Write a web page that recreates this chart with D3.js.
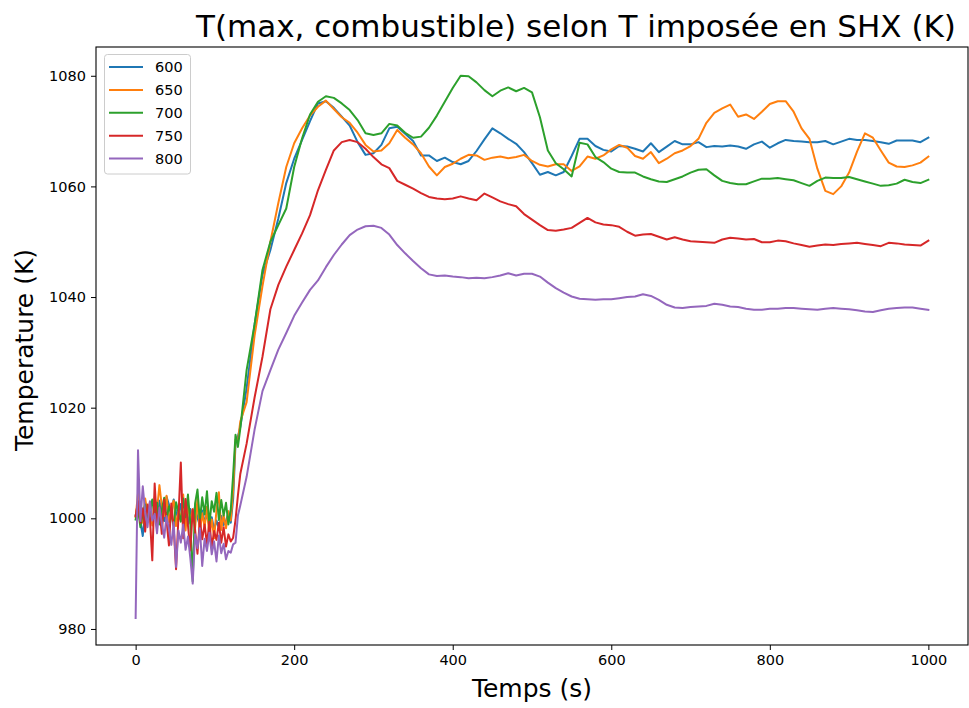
<!DOCTYPE html>
<html>
<head>
<meta charset="utf-8">
<script src="https://cdn.jsdelivr.net/npm/d3@7/dist/d3.min.js"></script>
<style>
  html, body { margin: 0; padding: 0; background: #fff; }
  svg { display: block; font-family: "DejaVu Sans", sans-serif; }
</style>
</head>
<body>
<svg id="chart" width="969" height="708"></svg>
<script>
// Sampling times (s): every 3 s through the start-up transient, then every 10 s
const time = [
  0, 3, 6, 9, 12, 15, 18, 21, 24, 27, 30, 33, 36, 39, 42, 45, 48, 51, 54, 57,
  60, 63, 66, 69, 72, 75, 78, 81, 84, 87, 90, 93, 96, 99, 102, 105, 108, 111, 114, 117,
  120, 123, 126, 129, 132,
  140, 150, 160, 170, 180, 190, 200, 210, 220, 230, 240, 250, 260, 270, 280, 290, 300,
  310, 320, 330, 340, 350, 360, 370, 380, 390, 400, 410, 420, 430, 440, 450, 460, 470,
  480, 490, 500, 510, 520, 530, 540, 550, 560, 570, 580, 590, 600, 610, 620, 630, 640,
  650, 660, 670, 680, 690, 700, 710, 720, 730, 740, 750, 760, 770, 780, 790, 800, 810,
  820, 830, 840, 850, 860, 870, 880, 890, 900, 910, 920, 930, 940, 950, 960, 970, 980,
  990, 1000
];

// Maximum fuel temperature (K) for each imposed SHX temperature
const t600 = [
  1000.5, 1002.8, 999.4, 996.8, 1001.5, 1000.2, 1002.4, 999.1, 1001.8, 1000.6, 1003.2, 1001.0, 999.5, 1003.9, 1002.5, 1000.8, 1003.4, 1001.2, 999.8, 1002.6,
  1000.4, 1002.1, 998.9, 1001.7, 999.6, 1002.3, 1000.1, 998.7, 1001.4, 999.3, 1000.8, 998.5, 1000.2, 997.9, 999.6, 998.2, 1000.4, 998.8, 999.5, 1000.9,
  999.2, 1003.5, 1013.6, 1014.8, 1016.5,
  1023.5, 1035.0, 1044.0, 1048.5, 1054.2, 1060.6, 1065.0, 1068.4, 1071.8, 1075.0, 1075.4, 1074.2, 1072.6, 1071.0, 1068.0, 1065.7, 1066.0,
  1067.5, 1070.5, 1070.8, 1069.5, 1068.2, 1065.6, 1065.6, 1064.6, 1065.2, 1064.4, 1064.0, 1064.6, 1066.4, 1068.5, 1070.5, 1069.6, 1068.6,
  1067.7, 1066.2, 1064.2, 1062.1, 1062.6, 1062.0, 1062.6, 1065.5, 1068.6, 1068.6, 1067.3, 1066.6, 1066.3, 1067.3, 1067.2, 1066.8, 1066.3,
  1067.8, 1066.2, 1067.2, 1068.2, 1067.6, 1067.6, 1068.0, 1067.1, 1067.3, 1067.2, 1067.4, 1067.2, 1066.8, 1067.6, 1068.1, 1067.0, 1067.8,
  1068.4, 1068.2, 1068.1, 1068.0, 1068.0, 1068.2, 1067.6, 1068.1, 1068.6, 1068.4, 1068.4, 1068.2, 1068.0, 1067.7, 1068.3, 1068.3, 1068.3,
  1068.0, 1068.8
];
const t650 = [
  1000.2, 1004.5, 1001.3, 999.2, 1003.6, 1000.8, 1002.9, 998.7, 1003.8, 1001.5, 1006.0, 1002.2, 1000.4, 1004.1, 999.3, 1001.8, 1003.2, 998.6, 1001.4, 999.7,
  1004.3, 997.8, 1002.6, 999.1, 1001.7, 998.3, 1003.5, 997.6, 1000.9, 998.4, 1002.1, 996.7, 999.8, 996.4, 1001.5, 1004.7, 997.9, 1000.6, 998.2, 1001.3,
  999.6, 1005.2, 1014.2, 1013.8, 1017.5,
  1021.0, 1033.0, 1042.0, 1050.0, 1057.0, 1063.5, 1067.8, 1070.5, 1072.8, 1074.4, 1075.5, 1074.0, 1072.5, 1071.5, 1069.7, 1067.5, 1066.3,
  1066.5, 1067.8, 1070.2, 1068.8, 1067.6, 1066.0, 1063.6, 1062.0, 1063.5, 1064.1, 1065.0, 1065.7, 1065.6, 1064.8, 1065.2, 1065.4, 1065.1,
  1065.3, 1065.7, 1064.6, 1063.9, 1063.6, 1064.0, 1064.0, 1062.8, 1063.6, 1065.4, 1065.0, 1065.6, 1066.7, 1067.5, 1067.0, 1065.5, 1065.0,
  1066.2, 1064.2, 1065.0, 1066.0, 1066.5, 1067.3, 1068.6, 1071.5, 1073.3, 1074.1, 1074.8, 1072.6, 1073.0, 1072.2, 1073.5, 1074.9, 1075.4,
  1075.4, 1073.5, 1070.5, 1068.6, 1063.2, 1059.2, 1058.6, 1060.0, 1062.5, 1066.3, 1069.6, 1068.8, 1066.5, 1064.3, 1063.6, 1063.5, 1063.8,
  1064.3, 1065.4
];
const t700 = [
  999.8, 1001.6, 998.4, 1000.9, 1002.5, 999.3, 1001.2, 1003.4, 1000.1, 1002.8, 998.9, 1001.5, 1003.7, 999.8, 1002.2, 1000.5, 998.6, 1002.9, 1001.1, 999.4,
  1003.6, 1000.2, 1004.3, 999.1, 988.6, 1002.7, 1005.2, 999.6, 1003.8, 1000.7, 1004.9, 998.8, 1003.1, 1001.2, 1004.6, 999.7, 1003.3, 1000.5, 1002.8, 998.9,
  1001.6, 1007.8, 1015.1, 1012.9, 1016.2,
  1026.8, 1035.0, 1044.9, 1050.0, 1053.0, 1056.0, 1063.5, 1068.7, 1073.0, 1075.3, 1076.3, 1076.0, 1075.0, 1073.8, 1072.0, 1069.6, 1069.3,
  1069.6, 1071.3, 1071.0, 1069.7, 1068.8, 1069.0, 1070.6, 1072.8, 1075.3, 1077.8, 1080.0, 1079.9, 1078.8, 1077.4, 1076.3, 1077.3, 1077.9,
  1077.2, 1077.8, 1077.0, 1072.5, 1066.5, 1064.2, 1063.1, 1061.8, 1067.9, 1067.6, 1065.3, 1064.4, 1063.2, 1062.6, 1062.5, 1062.5, 1061.8,
  1061.3, 1060.9, 1060.8, 1061.3, 1061.8, 1062.5, 1063.0, 1063.1, 1062.0, 1061.0, 1060.6, 1060.4, 1060.4, 1060.9, 1061.4, 1061.4, 1061.5,
  1061.3, 1061.1, 1060.6, 1060.1, 1061.0, 1061.6, 1061.5, 1061.5, 1061.7, 1061.3, 1060.9, 1060.5, 1060.1, 1060.2, 1060.5, 1061.2, 1060.8,
  1060.6, 1061.2
];
const t750 = [
  1000.4, 1003.1, 999.2, 1001.8, 997.6, 1002.5, 1000.1, 992.4, 1006.3, 998.8, 1001.9, 997.2, 1003.4, 999.6, 995.1, 1002.7, 998.3, 990.8, 1000.2, 1010.1,
  996.4, 1003.5, 998.7, 994.2, 1001.6, 997.9, 993.6, 999.8, 996.2, 998.9, 995.3, 999.4, 994.8, 997.7, 996.1, 999.2, 995.6, 998.4, 994.9, 997.1,
  995.8, 996.5, 999.7, 1004.1, 1008.0,
  1013.5, 1021.8, 1029.2, 1037.8, 1042.2, 1045.5, 1048.5, 1051.5, 1054.8, 1059.3, 1063.0, 1066.5, 1068.0, 1068.4, 1068.0, 1066.8, 1065.3,
  1064.0, 1063.3, 1061.0, 1060.3, 1059.6, 1058.8, 1058.1, 1057.8, 1057.7, 1057.8, 1058.2, 1057.8, 1057.5, 1058.7, 1058.0, 1057.3, 1056.8,
  1056.4, 1055.0, 1054.0, 1053.0, 1052.1, 1052.0, 1052.2, 1052.5, 1053.4, 1054.3, 1053.5, 1053.1, 1053.0, 1052.7, 1051.8, 1051.1, 1051.3,
  1051.4, 1050.9, 1050.4, 1050.8, 1050.4, 1050.1, 1050.0, 1049.9, 1049.8, 1050.4, 1050.7, 1050.6, 1050.4, 1050.5, 1049.9, 1049.9, 1050.2,
  1050.1, 1049.7, 1049.4, 1049.1, 1049.3, 1049.5, 1049.4, 1049.6, 1049.7, 1049.8, 1049.6, 1049.4, 1049.2, 1049.8, 1049.7, 1049.5, 1049.4,
  1049.3, 1050.2
];
const t800 = [
  982.0, 1012.3, 999.5, 1005.8, 1001.2, 998.4, 1003.1, 999.6, 1000.8, 997.3, 1001.9, 999.2, 996.5, 1000.4, 998.1, 995.2, 999.3, 991.2, 997.8, 995.6,
  998.9, 994.3, 996.7, 992.8, 988.2, 997.1, 994.6, 998.2, 991.4, 996.3, 994.1, 997.4, 993.5, 995.8, 992.2, 996.9, 993.7, 995.4, 992.6, 994.1,
  993.8, 995.3, 995.6, 1000.5, 1002.3,
  1007.5, 1016.0, 1023.0, 1026.8, 1030.5, 1033.5, 1036.6, 1039.0, 1041.3, 1043.0, 1045.4, 1047.6, 1049.5, 1051.2, 1052.2, 1052.8, 1052.9,
  1052.5, 1051.3, 1049.4, 1047.9, 1046.5, 1045.2, 1044.1, 1043.8, 1043.9, 1043.7, 1043.6, 1043.4, 1043.5, 1043.4, 1043.6, 1043.9, 1044.3,
  1043.9, 1044.2, 1044.2, 1043.7, 1042.6, 1041.6, 1040.8, 1040.1, 1039.7, 1039.6, 1039.5, 1039.6, 1039.6, 1039.8, 1040.0, 1040.1, 1040.5,
  1040.2, 1039.5, 1038.6, 1038.1, 1038.0, 1038.2, 1038.3, 1038.4, 1038.8, 1038.6, 1038.3, 1038.2, 1037.9, 1037.7, 1037.7, 1037.9, 1037.9,
  1038.0, 1038.0, 1037.9, 1037.8, 1037.7, 1037.9, 1038.0, 1037.9, 1037.8, 1037.6, 1037.4, 1037.3, 1037.6, 1037.9, 1038.0, 1038.1, 1038.1,
  1037.9, 1037.7
];

const seriesNames = ["600", "650", "700", "750", "800"];
const seriesValues = [t600, t650, t700, t750, t800];
const seriesColors = ["#1f77b4", "#ff7f0e", "#2ca02c", "#d62728", "#9467bd"];
const xTicks = [0, 200, 400, 600, 800, 1000];
const yTicks = [980, 1000, 1020, 1040, 1060, 1080];

const titleText = "T(max, combustible) selon T imposée en SHX (K)";
const xLabel = "Temps (s)";
const yLabel = "Temperature (K)";

// Axes box
const plot = { left: 96, right: 968, top: 47, bottom: 645 };

const svg = d3.select("#chart");

const x = d3.scaleLinear().domain([-50, 1050]).range([plot.left, plot.right]);
const y = d3.scaleLinear().domain([977.1, 1085.2]).range([plot.bottom, plot.top]);

svg.append("defs").append("clipPath").attr("id", "plot-clip")
  .append("rect")
  .attr("x", plot.left).attr("y", plot.top)
  .attr("width", plot.right - plot.left).attr("height", plot.bottom - plot.top);

// Series lines
const line = d3.line()
  .x((d, i) => x(time[i]))
  .y(d => y(d));

const lines = svg.append("g").attr("clip-path", "url(#plot-clip)");
seriesValues.forEach((vals, k) => {
  lines.append("path")
    .datum(vals)
    .attr("fill", "none")
    .attr("stroke", seriesColors[k])
    .attr("stroke-width", 2)
    .attr("stroke-linejoin", "round")
    .attr("stroke-linecap", "square")
    .attr("d", line);
});

// Axes
const xAxis = d3.axisBottom(x).tickValues(xTicks).tickSize(5).tickPadding(5).tickFormat(d3.format("d"));
const yAxis = d3.axisLeft(y).tickValues(yTicks).tickSize(5).tickPadding(5).tickFormat(d3.format("d"));

const gx = svg.append("g").attr("transform", `translate(0,${plot.bottom})`).call(xAxis);
const gy = svg.append("g").attr("transform", `translate(${plot.left},0)`).call(yAxis);
[gx, gy].forEach(g => {
  g.select(".domain").remove();
  g.selectAll(".tick line").attr("stroke", "#000").attr("stroke-width", 1);
  g.selectAll(".tick text").attr("fill", "#000")
    .style("font-family", "DejaVu Sans, sans-serif").style("font-size", "14.5px");
});

// Frame
svg.append("rect")
  .attr("x", plot.left).attr("y", plot.top)
  .attr("width", plot.right - plot.left).attr("height", plot.bottom - plot.top)
  .attr("fill", "none").attr("stroke", "#000").attr("stroke-width", 1.1);

// Title and axis labels
svg.append("text")
  .attr("x", 576).attr("y", 37)
  .attr("text-anchor", "middle")
  .style("font-size", "31px")
  .text(titleText);

svg.append("text")
  .attr("x", (plot.left + plot.right) / 2).attr("y", 697)
  .attr("text-anchor", "middle")
  .style("font-size", "25px")
  .text(xLabel);

svg.append("text")
  .attr("transform", `translate(33,${(plot.top + plot.bottom) / 2 + 4}) rotate(-90)`)
  .attr("text-anchor", "middle")
  .style("font-size", "25px")
  .text(yLabel);

// Legend
const legend = svg.append("g");
legend.append("rect")
  .attr("x", 104.5).attr("y", 54.5).attr("width", 86).attr("height", 119.5)
  .attr("rx", 3).attr("ry", 3)
  .attr("fill", "#fff").attr("fill-opacity", 0.8)
  .attr("stroke", "#cccccc").attr("stroke-width", 1);
seriesNames.forEach((name, k) => {
  const cy = 67 + k * 22.9;
  legend.append("line")
    .attr("x1", 109).attr("x2", 143).attr("y1", cy).attr("y2", cy)
    .attr("stroke", seriesColors[k]).attr("stroke-width", 2);
  legend.append("text")
    .attr("x", 155).attr("y", cy).attr("dy", "0.36em")
    .style("font-size", "14.5px")
    .text(name);
});
</script>
</body>
</html>
